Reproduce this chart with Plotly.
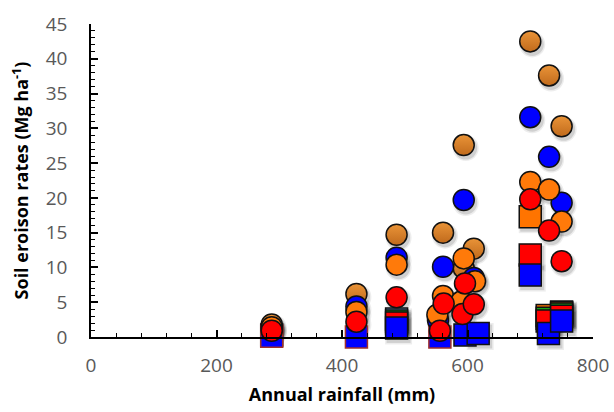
import plotly.graph_objects as go

# ---- data (annual rainfall mm, soil erosion Mg/ha) ----
brown_x = [288, 423, 487, 561, 594, 594, 610, 700, 730, 750]
brown_y = [1.8, 6.2, 14.7, 15.0, 27.6, 9.9, 12.7, 42.5, 37.6, 30.3]

blue_x = [288, 423, 487, 553, 561, 594, 610, 700, 730, 750]
blue_y = [1.2, 4.4, 11.4, 2.4, 10.1, 19.7, 8.5, 31.6, 25.9, 19.3]

orange_x = [288, 423, 487, 552, 561, 590, 594, 612, 700, 730, 750]
orange_y = [1.4, 3.6, 10.4, 3.2, 5.9, 5.1, 11.3, 8.0, 22.3, 21.2, 16.6]

red_x = [288, 423, 487, 556, 562, 592, 596, 610, 700, 730, 750]
red_y = [0.9, 2.2, 5.7, 0.9, 4.8, 3.3, 7.7, 4.7, 19.8, 15.3, 10.9]

sq_lightblue_x = [487, 750]
sq_lightblue_y = [2.6, 3.6]
sq_orange_x = [700, 727, 750]
sq_orange_y = [17.3, 3.1, 3.5]
sq_green_x = [487, 727, 750]
sq_green_y = [2.3, 2.7, 3.3]
sq_red_x = [288, 487, 700, 727, 750]
sq_red_y = [0.3, 2.0, 11.8, 2.3, 3.0]
sq_blue_low_x = [288, 423, 556]
sq_blue_low_y = [0.1, 0.0, 0.0]
sq_blue_x = [487, 596, 617, 700, 729, 750]
sq_blue_y = [1.3, 0.3, 0.5, 8.9, 0.5, 2.3]

x_ticks = [0, 200, 400, 600, 800]
y_ticks = [0, 5, 10, 15, 20, 25, 30, 35, 40, 45]

X_RANGE = [0, 800]
Y_RANGE = [0, 45]

fig = go.Figure()

circle_sets = [
    (brown_x, brown_y, "#EA9438", "#C06A1C"),
    (blue_x, blue_y, "#0000FF", None),
    (orange_x, orange_y, "#FF7A0A", None),
    (red_x, red_y, "#FF0000", None),
]
square_sets = [
    (sq_lightblue_x, sq_lightblue_y, "#6E9BD2", "#111111"),
    (sq_orange_x, sq_orange_y, "#FF7400", "#111111"),
    (sq_green_x, sq_green_y, "#17A117", "#111111"),
    (sq_red_x, sq_red_y, "#FF0000", "#111111"),
    (sq_blue_low_x, sq_blue_low_y, "#0000FF", "#A0302A"),
    (sq_blue_x, sq_blue_y, "#0000FF", "#111111"),
]

# soft drop shadows on hidden, slightly shifted axes (x, y)
for xs, ys, _, _ in square_sets:
    for sz, op in [(27, 0.07), (24, 0.12)]:
        fig.add_trace(go.Scatter(x=xs, y=ys, mode="markers", cliponaxis=False,
                                 marker=dict(symbol="square", size=sz,
                                             color="rgba(0,0,0,%s)" % op, line=dict(width=0)),
                                 showlegend=False, hoverinfo="skip", xaxis="x", yaxis="y"))
for xs, ys, _, _ in circle_sets:
    for sz, op in [(26, 0.07), (23, 0.12)]:
        fig.add_trace(go.Scatter(x=xs, y=ys, mode="markers", cliponaxis=False,
                                 marker=dict(symbol="circle", size=sz,
                                             color="rgba(0,0,0,%s)" % op, line=dict(width=0)),
                                 showlegend=False, hoverinfo="skip", xaxis="x", yaxis="y"))

# real markers on visible axes (x2, y2)
for xs, ys, col, lc in square_sets:
    fig.add_trace(go.Scatter(
        x=xs, y=ys, mode="markers", cliponaxis=False,
        marker=dict(symbol="square", size=22, color=col, line=dict(color=lc, width=1.5)),
        showlegend=False, hoverinfo="skip", xaxis="x2", yaxis="y2"))
for xs, ys, col, grad in circle_sets:
    m = dict(symbol="circle", size=21, color=col, line=dict(color="#111111", width=1.5))
    if grad:
        m["gradient"] = dict(type="vertical", color=grad)
    fig.add_trace(go.Scatter(x=xs, y=ys, mode="markers", marker=m, cliponaxis=False,
                             showlegend=False, hoverinfo="skip", xaxis="x2", yaxis="y2"))

tick_font = dict(family="Open Sans", size=19, color="#595959")
title_font = dict(family="Open Sans", size=18, color="#000000")

# shadow offset: about 2 px right, 3 px down
px_x = (X_RANGE[1] - X_RANGE[0]) / 502.0
px_y = (Y_RANGE[1] - Y_RANGE[0]) / 313.0
shadow_xr = [X_RANGE[0] - 2 * px_x, X_RANGE[1] - 2 * px_x]
shadow_yr = [Y_RANGE[0] + 3 * px_y, Y_RANGE[1] + 3 * px_y]

fig.update_layout(
    width=614, height=412,
    margin=dict(l=91, r=21, t=24, b=75, autoexpand=False),
    paper_bgcolor="white", plot_bgcolor="white",
    xaxis=dict(range=shadow_xr, visible=False, showgrid=False, zeroline=False, fixedrange=True),
    yaxis=dict(range=shadow_yr, visible=False, showgrid=False, zeroline=False, fixedrange=True),
    xaxis2=dict(
        overlaying="x", side="bottom",
        range=X_RANGE, tickvals=x_ticks, ticktext=[str(v) for v in x_ticks],
        showgrid=False, zeroline=False, showline=True, linecolor="black",
        linewidth=1.5, ticks="inside", ticklen=7, tickwidth=1.5, tickcolor="black",
        minor=dict(dtick=40, ticks="inside", ticklen=4, tickwidth=1.2, tickcolor="black"),
        tickfont=tick_font, ticklabelstandoff=10, automargin=False,
        title=dict(text="<b>Annual rainfall (mm)</b>", font=title_font, standoff=12),
    ),
    yaxis2=dict(
        overlaying="y", side="left",
        range=Y_RANGE, tickvals=y_ticks, ticktext=[str(v) for v in y_ticks],
        showgrid=False, zeroline=False, showline=True, linecolor="black",
        linewidth=1.5, ticks="inside", ticklen=7, tickwidth=1.5, tickcolor="black",
        minor=dict(dtick=1, ticks="inside", ticklen=4, tickwidth=1.2, tickcolor="black"),
        tickfont=tick_font, ticklabelstandoff=18, automargin=False,
        title=dict(text="<b>Soil eroison rates (Mg ha<sup>-1</sup>)</b>", font=title_font, standoff=12),
    ),
)

fig.write_html(
    "out.html",
    config={"displayModeBar": False},
    post_script="document.body.style.margin='0';document.body.style.overflow='hidden';",
)
